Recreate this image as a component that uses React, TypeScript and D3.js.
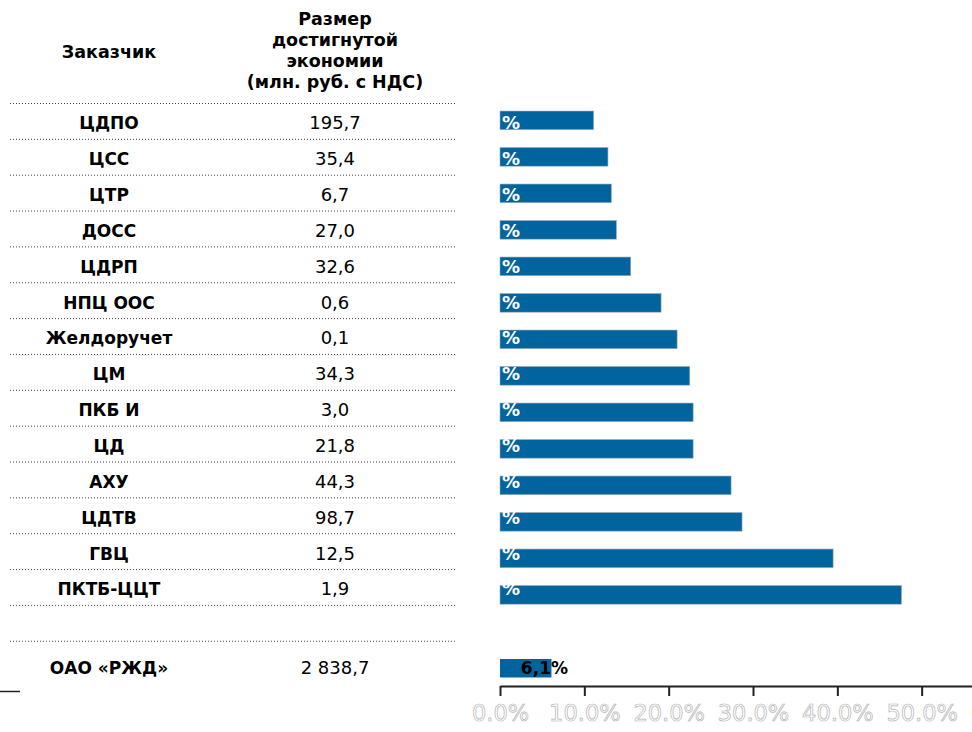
import React, { useEffect, useRef } from 'react';
import * as d3 from 'd3';

// Заказчики (строки таблицы сверху вниз)
const customers = ['ЦДПО', 'ЦСС', 'ЦТР', 'ДОСС', 'ЦДРП', 'НПЦ ООС', 'Желдоручет', 'ЦМ', 'ПКБ И', 'ЦД', 'АХУ', 'ЦДТВ', 'ГВЦ', 'ПКТБ-ЦЦТ'];
// Размер достигнутой экономии, млн. руб. с НДС
const savings = [195.7, 35.4, 6.7, 27.0, 32.6, 0.6, 0.1, 34.3, 3.0, 21.8, 44.3, 98.7, 12.5, 1.9];
// Доля экономии, % (оценка по длине столбцов)
const shares = [11.1, 12.8, 13.2, 13.8, 15.5, 19.1, 21.0, 22.5, 22.9, 22.9, 27.4, 28.7, 39.5, 47.6];

const totalName = 'ОАО «РЖД»';
const totalSavings = 2838.7;
const totalShare = 6.1;

const headerCustomer = 'Заказчик';
const headerSavings = ['Размер', 'достигнутой', 'экономии', '(млн. руб. с НДС)'];
const xTicks = [0, 0.1, 0.2, 0.3, 0.4, 0.5, 0.6];

const W = 972;
const H = 732;
const FONT = '"DejaVu Sans", Verdana, sans-serif';
const BLUE = '#02649f';

const ru = d3.formatLocale({ decimal: ',', thousands: '\u00a0', grouping: [3], currency: ['', ''] });
const fmtVal = ru.format(',.1f');
const fmtNum = ru.format('.1f');

function App() {
  const svgRef = useRef<SVGSVGElement>(null);

  useEffect(() => {
    const svg = d3.select(svgRef.current);
    svg.selectAll('*').remove();

    const colName = 109;
    const colVal = 335;
    const lineTop = 103.5;
    const rowStep = 35.85;

    // dotted lines between the table rows
    const lineYs = d3.range(customers.length + 2).map(i => lineTop + i * rowStep);
    svg.append('g')
      .selectAll('line')
      .data(lineYs)
      .enter()
      .append('line')
      .attr('x1', 10)
      .attr('x2', 456)
      .attr('y1', d => d)
      .attr('y2', d => d)
      .attr('stroke', '#444')
      .attr('stroke-width', 1)
      .attr('stroke-dasharray', '1,2');

    // headers
    svg.append('text')
      .attr('x', colName)
      .attr('y', 58)
      .attr('text-anchor', 'middle')
      .style('font', `bold 17.5px ${FONT}`)
      .text(headerCustomer);

    svg.append('g')
      .selectAll('text')
      .data(headerSavings)
      .enter()
      .append('text')
      .attr('x', colVal)
      .attr('y', (d, i) => 25 + i * 21)
      .attr('text-anchor', 'middle')
      .style('font', `bold 17.5px ${FONT}`)
      .text(d => d);

    const rows = svg.append('g')
      .selectAll('g')
      .data(customers)
      .enter()
      .append('g')
      .attr('transform', (d, i) => `translate(0,${lineTop + i * rowStep + 25.8})`);

    rows.append('text')
      .attr('x', colName)
      .attr('text-anchor', 'middle')
      .style('font', `bold 17px ${FONT}`)
      .text(d => d);

    rows.append('text')
      .attr('x', colVal)
      .attr('text-anchor', 'middle')
      .style('font', `18px ${FONT}`)
      .text((d, i) => fmtVal(savings[i]));

    // total row
    svg.append('text')
      .attr('x', colName)
      .attr('y', 674)
      .attr('text-anchor', 'middle')
      .style('font', `bold 17px ${FONT}`)
      .text(totalName);
    svg.append('text')
      .attr('x', colVal)
      .attr('y', 674)
      .attr('text-anchor', 'middle')
      .style('font', `18px ${FONT}`)
      .text(fmtVal(totalSavings));

    svg.append('line')
      .attr('x1', 0).attr('x2', 20)
      .attr('y1', 691.5).attr('y2', 691.5)
      .attr('stroke', '#222')
      .attr('stroke-width', 1.5);

    // bars
    const x = d3.scaleLinear().domain([0, 0.6]).range([500, 1006]);
    const y = d3.scaleBand<string>()
      .domain(customers)
      .range([102.1, 613.1])
      .paddingInner(0.49)
      .paddingOuter(0.245);

    svg.append('g')
      .selectAll('rect')
      .data(customers)
      .enter()
      .append('rect')
      .attr('x', x(0))
      .attr('y', d => y(d)!)
      .attr('width', (d, i) => x(shares[i] / 100) - x(0))
      .attr('height', y.bandwidth())
      .attr('fill', BLUE)
      .attr('stroke', '#9aa9b5')
      .attr('stroke-width', 0.6);

    // value labels are white: only the "%" over the bar shows
    const lbl = svg.append('g')
      .selectAll('text')
      .data(customers)
      .enter()
      .append('text')
      .attr('x', 520)
      .attr('y', (d, i) => lineTop + i * rowStep + 25.8)
      .attr('text-anchor', 'end')
      .attr('fill', '#fff')
      .style('font', `bold 18px ${FONT}`);
    lbl.append('tspan').text((d, i) => fmtNum(shares[i]));
    lbl.append('tspan').attr('dx', 3).text('%');

    svg.append('rect')
      .attr('x', x(0))
      .attr('y', 659)
      .attr('width', x(totalShare / 100) - x(0))
      .attr('height', 18.5)
      .attr('fill', BLUE);
    svg.append('text')
      .attr('x', 568)
      .attr('y', 674.3)
      .attr('text-anchor', 'end')
      .attr('fill', '#000')
      .style('font', `bold 17px ${FONT}`)
      .text(fmtNum(totalShare) + '%');

    // axis
    const axis = svg.append('g')
      .attr('transform', 'translate(0,686)')
      .call(d3.axisBottom(x).tickValues(xTicks).tickFormat(d3.format('.1%')).tickSize(10).tickSizeOuter(0).tickPadding(9));
    axis.select('.domain').attr('stroke', '#222').attr('stroke-width', 2);
    axis.selectAll('.tick line').attr('stroke', '#222').attr('stroke-width', 2);
    axis.selectAll('.tick text')
      .attr('fill', '#fff')
      .attr('stroke', '#b4b4b4')
      .attr('stroke-width', 0.7)
      .style('font-family', FONT)
      .style('font-size', '22.5px');
  }, []);

  return (
    <svg
      ref={svgRef}
      width={W}
      height={H}
      style={{ position: 'absolute', left: 0, top: 0, background: '#fff' }}
    />
  );
}

export default App;
